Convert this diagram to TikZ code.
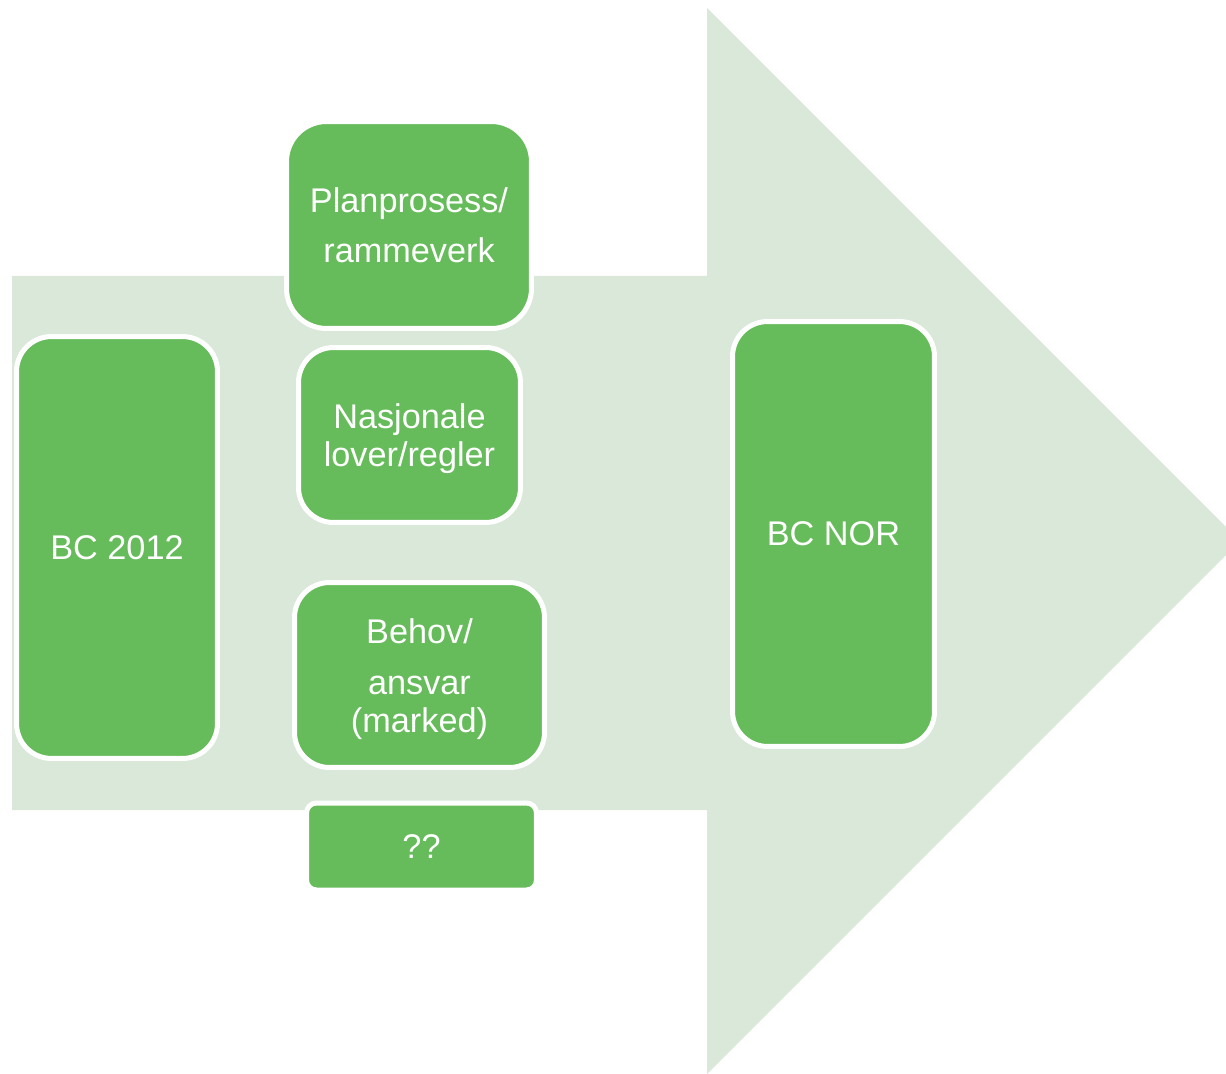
\documentclass[tikz,border=0pt]{standalone}
\usepackage{fontspec}
\setmainfont{Liberation Sans}
\usepackage{xcolor}
\usepackage{tikz}
\usetikzlibrary{positioning}
\definecolor{arrowgreen}{RGB}{218,232,218}
\definecolor{boxgreen}{RGB}{102,187,90}
\tikzset{
  bigarrow/.style={fill=arrowgreen, draw=none},
  tallbox/.style={rectangle, rounded corners=0.7cm, draw=white, line width=0.1cm, fill=boxgreen, text=white, align=center, minimum width=4cm, minimum height=8.45cm, font=\fontsize{19.5}{21.6}\selectfont},
  midbox/.style={rectangle, rounded corners=0.8cm, draw=white, line width=0.1cm, fill=boxgreen, text=white, align=center, font=\fontsize{19.5}{21.6}\selectfont},
  smallbox/.style={midbox, rounded corners=0.2cm}
}
\begin{document}
\begin{tikzpicture}[x=0.02cm, y=-0.02cm]
\useasboundingbox (0,0) rectangle (1226,1074);

% Arrow
\fill [bigarrow] (12,276) -- (707,276) -- (707,8) -- (1240,541) -- (707,1074) -- (707,810) -- (12,810) -- cycle;

% Boxes
\node (bcold) [tallbox, minimum width=4.02cm, minimum height=8.44cm] at (117,547.5) {BC 2012};
\node (plan) [midbox, minimum width=4.9cm, minimum height=4.14cm] at (409,225) {Planprosess/\\[6.9pt]rammeverk};
\node (lover) [midbox, rounded corners=0.7cm, minimum width=4.44cm, minimum height=3.5cm] at (409.5,435) {\rule{0pt}{18.8pt}Nasjonale\\lover/regler};
\node (behov) [midbox, rounded corners=0.7cm, minimum width=5cm, minimum height=3.7cm] at (419.5,675) {\rule{0pt}{18.8pt}Behov/\\[7pt]ansvar\\(marked)};
\node (ukjent) [smallbox, minimum width=4.6cm, minimum height=1.74cm] at (421.5,846.5) {??};
\node (bcnor) [tallbox, minimum width=4.04cm, minimum height=8.5cm] at (833.5,534) {BC NOR};

\end{tikzpicture}
\end{document}
